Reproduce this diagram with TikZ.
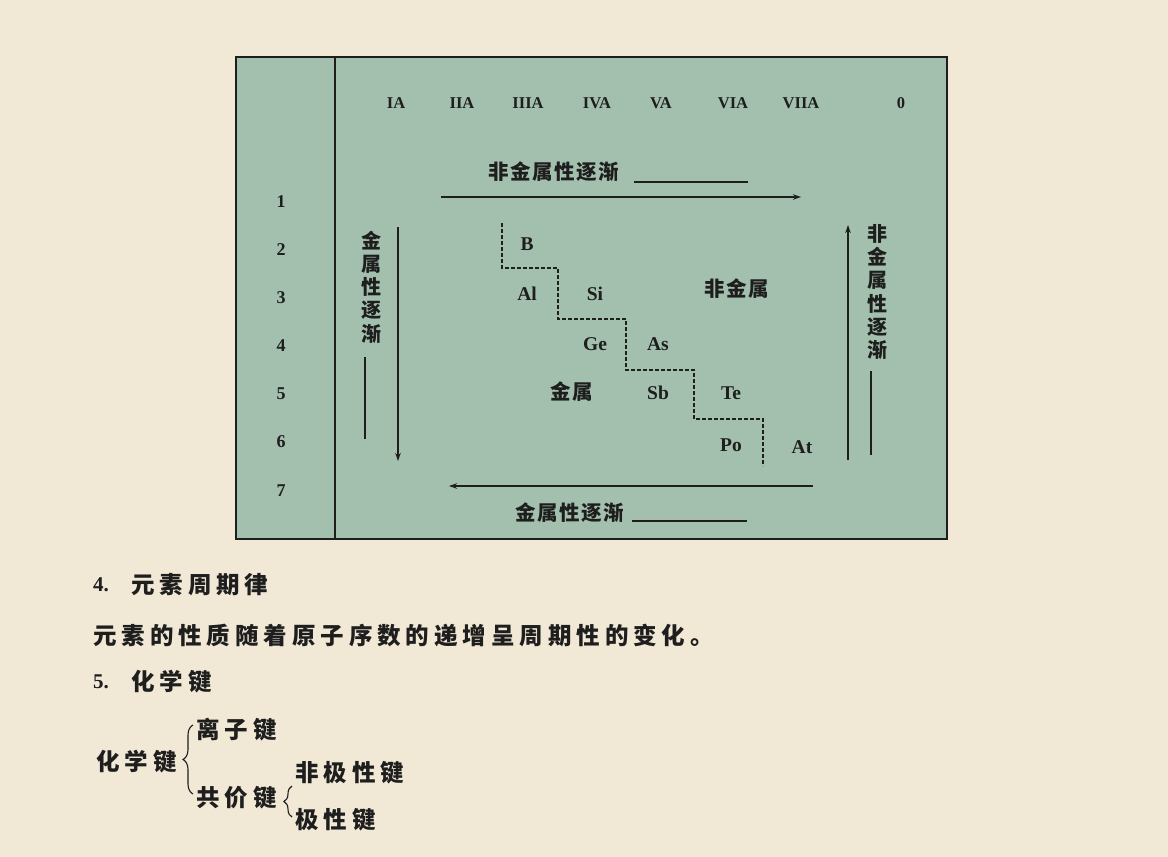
\documentclass[tikz,border=0pt]{standalone}
\usepackage{fontspec}
\setmainfont{Liberation Serif}
\newfontfamily\cjkbox[LetterSpace=8]{Noto Sans CJK SC}
\newfontfamily\cjktxt[LetterSpace=21]{Noto Sans CJK SC}
\usetikzlibrary{arrows.meta,decorations.pathreplacing}
\definecolor{paper}{HTML}{F1E9D6}
\definecolor{panel}{HTML}{A2C0AD}
\definecolor{ink}{HTML}{1E1E1E}
\tikzset{
  grp/.style={inner sep=0pt, font=\bfseries\fontsize{16.5}{16.5}\selectfont, text=ink},
  per/.style={inner sep=0pt, font=\bfseries\fontsize{18}{18}\selectfont, text=ink},
  elem/.style={inner sep=0pt, font=\bfseries\fontsize{19.5}{19.5}\selectfont, text=ink},
  zh/.style={inner sep=0pt, font=\cjkbox\bfseries\fontsize{20.5}{20.5}\selectfont, text=ink},
  zhv/.style={inner sep=0pt, align=center, font=\cjkbox\bfseries\fontsize{20}{23.3}\selectfont, text=ink},
  body/.style={inner sep=0pt, anchor=west, font=\cjktxt\bfseries\fontsize{23.5}{23.5}\selectfont, text=ink},
  num/.style={inner sep=0pt, anchor=west, font=\bfseries\fontsize{21}{21}\selectfont, text=ink},
  trend/.style={line width=2pt, draw=ink, -{Stealth[length=8pt,width=5.5pt]}},
  bar/.style={line width=2pt, draw=ink},
  stair/.style={line width=1.7pt, draw=ink, dash pattern=on 3.5pt off 2.5pt},
  curly/.style={line width=1.1pt, draw=ink, decorate},
}
\begin{document}
\begin{tikzpicture}[x=1pt,y=-1pt]
\useasboundingbox (0,0) rectangle (1168,857);
\fill[paper] (0,0) rectangle (1168,857);
% panel
\fill[panel] (236,57) rectangle (947,539);
\draw[line width=2.5pt, draw=ink] (236,57) rectangle (947,539);
\draw[line width=2pt, draw=ink] (335,57) -- (335,539);
% group headers
\node[grp] (g1) at (396,103) {IA};
\node[grp] (g2) at (462,103) {IIA};
\node[grp] (g3) at (528,103) {IIIA};
\node[grp] (g4) at (597,103) {IVA};
\node[grp] (g5) at (661,103) {VA};
\node[grp] (g6) at (733,103) {VIA};
\node[grp] (g7) at (801,103) {VIIA};
\node[grp] (g0) at (901,103) {0};
% periods
\node[per] (p1) at (281,202) {1};
\node[per] (p2) at (281,250) {2};
\node[per] (p3) at (281,298) {3};
\node[per] (p4) at (281,346) {4};
\node[per] (p5) at (281,394) {5};
\node[per] (p6) at (281,442) {6};
\node[per] (p7) at (281,491) {7};
% top trend
\node[zh, anchor=west] (tt) at (488,172) {非金属性逐渐};
\coordinate (tl1) at (634,182); \coordinate (tl2) at (748,182);
\draw[bar] (tl1) -- (tl2);
\coordinate (ta1) at (441,197); \coordinate (ta2) at (801,197);
\draw[trend] (ta1) -- (ta2);
% bottom trend
\coordinate (ba1) at (813,486); \coordinate (ba2) at (449,486);
\draw[trend] (ba1) -- (ba2);
\node[zh, anchor=west] (bt) at (515,513) {金属性逐渐};
\coordinate (bl1) at (632,521); \coordinate (bl2) at (747,521);
\draw[bar] (bl1) -- (bl2);
% left trend
\coordinate (la1) at (398,227); \coordinate (la2) at (398,461);
\draw[trend] (la1) -- (la2);
\node[zhv] (lt) at (371,287) {金\\属\\性\\逐\\渐};
\coordinate (ll1) at (365,357); \coordinate (ll2) at (365,439);
\draw[bar] (ll1) -- (ll2);
% right trend
\coordinate (ra1) at (848,460); \coordinate (ra2) at (848,225);
\draw[trend] (ra1) -- (ra2);
\node[zhv] (rt) at (877,292) {非\\金\\属\\性\\逐\\渐};
\coordinate (rl1) at (871,371); \coordinate (rl2) at (871,455);
\draw[bar] (rl1) -- (rl2);
% staircase
\coordinate (s0) at (502,223);
\coordinate (s1) at (502,268);
\coordinate (s2) at (558,268);
\coordinate (s3) at (558,319);
\coordinate (s4) at (626,319);
\coordinate (s5) at (626,370);
\coordinate (s6) at (694,370);
\coordinate (s7) at (694,419);
\coordinate (s8) at (763,419);
\coordinate (s9) at (763,466);
\draw[stair] (s0) -- (s1) -- (s2) -- (s3) -- (s4) -- (s5) -- (s6) -- (s7) -- (s8) -- (s9);
% elements
\node[elem] (eB) at (527,244) {B};
\node[elem] (eAl) at (527,294) {Al};
\node[elem] (eSi) at (595,294) {Si};
\node[elem] (eGe) at (595,344) {Ge};
\node[elem] (eAs) at (658,344) {As};
\node[elem] (eSb) at (658,393) {Sb};
\node[elem] (eTe) at (731,393) {Te};
\node[elem] (ePo) at (731,445) {Po};
\node[elem] (eAt) at (802,447) {At};
\node[zh] (nm) at (737,289) {非金属};
\node[zh] (mt) at (572,392) {金属};
% text below
\node[num] (n4) at (93,585) {4.};
\node[body] (h4) at (131,585) {元素周期律};
\node[body] (s4t) at (93,636) {元素的性质随着原子序数的递增呈周期性的变化。};
\node[num] (n5) at (93,682) {5.};
\node[body] (h5) at (131,682) {化学键};
\node[body] (cb) at (96,762) {化学键};
\node[body] (ib) at (196,730) {离子键};
\node[body] (kb) at (196,798) {共价键};
\node[body] (np) at (295,773) {非极性键};
\node[body] (pp) at (295,820) {极性键};
\coordinate (bb1) at (193,794); \coordinate (bb2) at (193,725);
\draw[curly, decoration={brace, amplitude=10pt}] (bb1) -- (bb2);
\coordinate (sb1) at (292,817); \coordinate (sb2) at (292,786);
\draw[curly, decoration={brace, amplitude=8pt}] (sb1) -- (sb2);
\end{tikzpicture}
\end{document}
